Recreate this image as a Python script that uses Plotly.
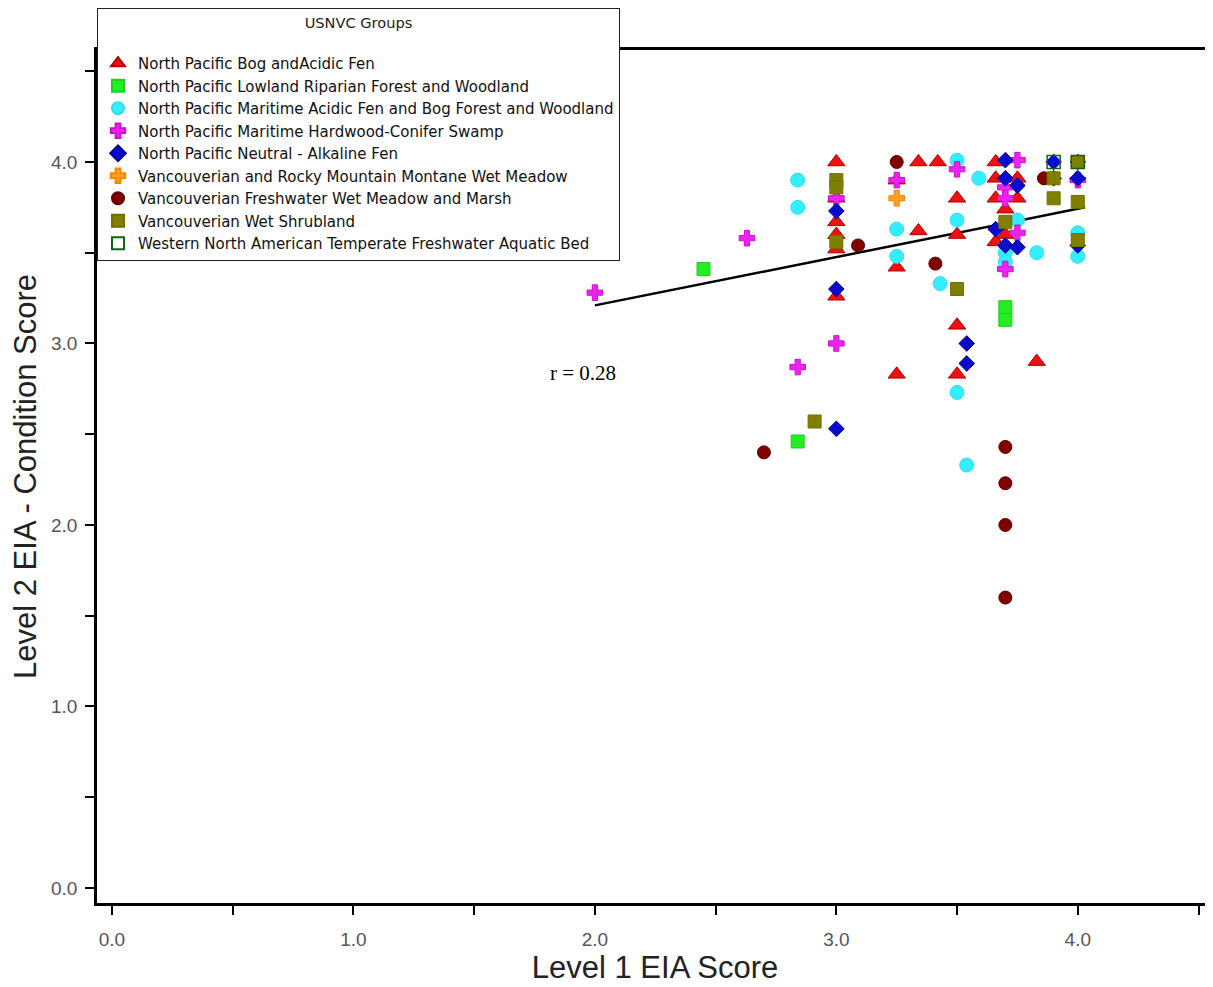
import plotly.graph_objects as go

# ---- data (Level 1 EIA score, Level 2 condition score) ----
groups = [
    "North Pacific Bog andAcidic Fen",
    "North Pacific Lowland Riparian Forest and Woodland",
    "North Pacific Maritime Acidic Fen and Bog Forest and Woodland",
    "North Pacific Maritime Hardwood-Conifer Swamp",
    "North Pacific Neutral - Alkaline Fen",
    "Vancouverian and Rocky Mountain Montane Wet Meadow",
    "Vancouverian Freshwater Wet Meadow and Marsh",
    "Vancouverian Wet Shrubland",
    "Western North American Temperate Freshwater Aquatic Bed",
]

bog_x = [3.0, 3.0, 3.0, 3.0, 3.0, 3.0, 3.25, 3.25, 3.25, 3.34, 3.42, 3.34,
         3.5, 3.5, 3.5, 3.5, 3.66, 3.66, 3.75, 3.66, 3.75, 3.7, 3.7, 3.66, 3.83]
bog_y = [4.0, 3.8, 3.67, 3.6, 3.52, 3.26, 3.9, 3.42, 2.83, 4.0, 4.0, 3.62,
         3.8, 3.6, 3.1, 2.83, 4.0, 3.91, 3.91, 3.8, 3.8, 3.74, 3.6, 3.56, 2.9]

riparian_x = [2.45, 2.84, 3.7, 3.7]
riparian_y = [3.41, 2.46, 3.2, 3.13]

acidic_x = [2.84, 2.84, 3.25, 3.25, 3.5, 3.59, 3.5, 3.43, 3.5, 3.54, 3.75,
            3.7, 3.7, 3.83, 4.0, 4.0]
acidic_y = [3.9, 3.75, 3.63, 3.48, 4.01, 3.91, 3.68, 3.33, 2.73, 2.33, 3.68,
            3.5, 3.45, 3.5, 3.61, 3.48]

swamp_x = [2.0, 2.63, 2.84, 3.0, 3.0, 3.25, 3.5, 3.75, 3.7, 3.7, 3.75, 3.7, 4.0]
swamp_y = [3.28, 3.58, 2.87, 3.8, 3.0, 3.9, 3.96, 4.01, 3.86, 3.8, 3.61, 3.41, 3.9]

neutral_x = [3.0, 3.0, 3.0, 3.54, 3.54, 3.7, 3.7, 3.75, 3.66, 3.7, 3.75,
             3.9, 4.0, 3.9, 4.0, 4.0]
neutral_y = [3.73, 3.3, 2.53, 3.0, 2.89, 4.01, 3.91, 3.87, 3.63, 3.54, 3.53,
             4.0, 4.0, 3.91, 3.91, 3.54]

montane_x = [3.25]
montane_y = [3.8]

marsh_x = [2.7, 3.09, 3.25, 3.41, 3.86, 3.7, 3.7, 3.7, 3.7]
marsh_y = [2.4, 3.54, 4.0, 3.44, 3.91, 2.43, 2.23, 2.0, 1.6]

shrub_x = [3.0, 3.0, 3.0, 2.91, 3.5, 3.7, 3.9, 3.9, 4.0, 4.0, 4.0]
shrub_y = [3.9, 3.86, 3.56, 2.57, 3.3, 3.67, 3.91, 3.8, 3.78, 3.57, 4.0]

aquatic_x = [3.9, 4.0]
aquatic_y = [4.0, 4.0]

trend_x = [2.0, 4.03]
trend_y = [3.21, 3.75]
r_label = "r = 0.28"
r_pos = (1.95, 2.84)

x_ticks = [0.0, 0.5, 1.0, 1.5, 2.0, 2.5, 3.0, 3.5, 4.0, 4.5]
x_labels = ["0.0", "", "1.0", "", "2.0", "", "3.0", "", "4.0", ""]
y_ticks = [0.0, 0.5, 1.0, 1.5, 2.0, 2.5, 3.0, 3.5, 4.0, 4.5]
y_labels = ["0.0", "", "1.0", "", "2.0", "", "3.0", "", "4.0", ""]

# ---- styles ----
styles = [
    dict(symbol="triangle-up", color="#EE1111", line=dict(color="#B00000", width=1), size=15),
    dict(symbol="square", color="#22EE22", line=dict(color="#22CC22", width=1), size=13),
    dict(symbol="circle", color="#33EEFF", line=dict(color="#33DDEE", width=1), size=14),
    dict(symbol="cross", color="#EE22EE", line=dict(color="#CC11CC", width=1), size=13),
    dict(symbol="diamond", color="#0A0ACC", line=dict(color="#000099", width=1), size=12),
    dict(symbol="cross", color="#FFA020", line=dict(color="#EE8800", width=1), size=13),
    dict(symbol="circle", color="#800000", line=dict(color="#600000", width=1), size=13),
    dict(symbol="square", color="#808000", line=dict(color="#707000", width=1), size=13),
    dict(symbol="square-open", color="#116611", line=dict(color="#116611", width=1.5), size=13),
]

data_x = [bog_x, riparian_x, acidic_x, swamp_x, neutral_x, montane_x, marsh_x, shrub_x, aquatic_x]
data_y = [bog_y, riparian_y, acidic_y, swamp_y, neutral_y, montane_y, marsh_y, shrub_y, aquatic_y]

fig = go.Figure()

fig.add_trace(go.Scatter(x=trend_x, y=trend_y, mode="lines",
                         line=dict(color="black", width=2.5), showlegend=False,
                         hoverinfo="skip"))

for name, xs, ys, st in zip(groups, data_x, data_y, styles):
    fig.add_trace(go.Scatter(
        x=xs, y=ys, mode="markers", name=name,
        marker=dict(symbol=st["symbol"], color=st["color"], size=st["size"],
                    line=st["line"]),
    ))

fig.add_annotation(x=r_pos[0], y=r_pos[1], text=r_label, showarrow=False,
                   xanchor="center", yanchor="middle",
                   font=dict(family="Liberation Serif, Times New Roman, serif", size=21, color="black"))

# page body adds an 8px offset, so the figure is 8px smaller than the window
fig.update_layout(
    width=1205, height=979,
    margin=dict(l=89, r=0, t=42, b=84),
    paper_bgcolor="white", plot_bgcolor="white",
    font=dict(family="Liberation Sans, Arial, sans-serif"),
    legend=dict(
        x=0, y=1 + 42 / 853, xanchor="left", yanchor="top",
        bgcolor="white", bordercolor="#222", borderwidth=1,
        font=dict(family="DejaVu Sans, sans-serif", size=15, color="#111"),
        title=dict(text="USNVC Groups<br>&nbsp;", side="top center",
                   font=dict(family="DejaVu Sans, sans-serif", size=14.6, color="#222")),
        itemsizing="constant", tracegroupgap=0, itemwidth=30,
    ),
    xaxis=dict(
        range=[-0.062, 4.56], showgrid=False, zeroline=False,
        showline=True, linecolor="black", linewidth=2.5, mirror=True,
        ticks="outside", ticklen=9, tickwidth=2, tickcolor="black",
        tickvals=x_ticks, ticktext=x_labels, ticklabelstandoff=8,
        tickfont=dict(size=19, color="#555"),
        title=dict(text="Level 1 EIA Score", font=dict(size=31, color="#222"), standoff=6),
    ),
    yaxis=dict(
        range=[-0.083, 4.617], showgrid=False, zeroline=False,
        showline=True, linecolor="black", linewidth=2.5,
        ticks="outside", ticklen=9, tickwidth=2, tickcolor="black",
        tickvals=y_ticks, ticktext=y_labels, ticklabelstandoff=4,
        tickfont=dict(size=19, color="#555"),
        title=dict(text="Level 2 EIA - Condition Score", font=dict(size=31, color="#222"), standoff=10),
    ),
)

fig.write_html("out.html")
